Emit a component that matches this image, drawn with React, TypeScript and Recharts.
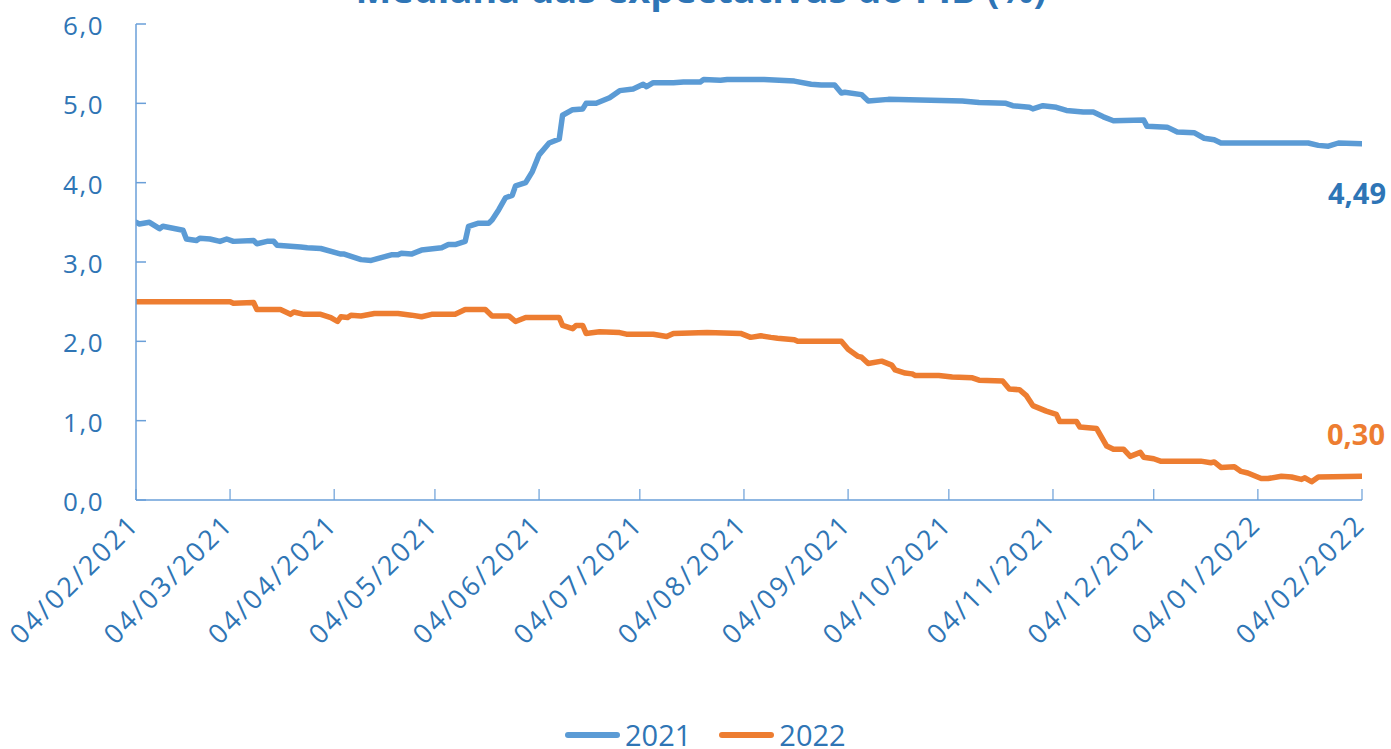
import React from 'react';
import { LineChart, Line, XAxis, YAxis, Legend, LabelList } from 'recharts';

const chartTitle = 'Mediana das expectativas do PIB (%)';
const seriesNames = ['2021', '2022'];
const seriesColors = ['#5B9BD5', '#ED7D31'];

const xTickLabels = [
  '04/02/2021', '04/03/2021', '04/04/2021', '04/05/2021', '04/06/2021', '04/07/2021',
  '04/08/2021', '04/09/2021', '04/10/2021', '04/11/2021', '04/12/2021', '04/01/2022', '04/02/2022',
];
const yTicks = [0, 1, 2, 3, 4, 5, 6];

const dates2021 = [
  '04/02/2021', '05/02/2021', '08/02/2021', '11/02/2021', '12/02/2021', '18/02/2021', '19/02/2021',
  '22/02/2021', '23/02/2021', '26/02/2021', '01/03/2021', '03/03/2021', '05/03/2021', '11/03/2021',
  '12/03/2021', '15/03/2021', '17/03/2021', '18/03/2021', '25/03/2021', '27/03/2021', '31/03/2021',
  '06/04/2021', '07/04/2021', '12/04/2021', '15/04/2021', '21/04/2021', '23/04/2021', '24/04/2021',
  '27/04/2021', '30/04/2021', '06/05/2021', '08/05/2021', '10/05/2021', '13/05/2021', '14/05/2021',
  '17/05/2021', '20/05/2021', '21/05/2021', '23/05/2021', '25/05/2021', '27/05/2021', '28/05/2021',
  '31/05/2021', '02/06/2021', '04/06/2021', '07/06/2021', '10/06/2021', '11/06/2021', '14/06/2021',
  '17/06/2021', '18/06/2021', '21/06/2021', '25/06/2021', '28/06/2021', '02/07/2021', '05/07/2021',
  '06/07/2021', '08/07/2021', '14/07/2021', '17/07/2021', '22/07/2021', '23/07/2021', '28/07/2021',
  '30/07/2021', '10/08/2021', '19/08/2021', '24/08/2021', '27/08/2021', '31/08/2021', '02/09/2021',
  '03/09/2021', '08/09/2021', '10/09/2021', '16/09/2021', '08/10/2021', '13/10/2021', '21/10/2021',
  '23/10/2021', '28/10/2021', '29/10/2021', '01/11/2021', '05/11/2021', '08/11/2021', '13/11/2021',
  '16/11/2021', '19/11/2021', '22/11/2021', '01/12/2021', '02/12/2021', '08/12/2021', '11/12/2021',
  '16/12/2021', '19/12/2021', '22/12/2021', '24/12/2021', '19/01/2022', '22/01/2022', '25/01/2022',
  '28/01/2022', '04/02/2022',
];
const values2021 = [
  3.50, 3.48, 3.50, 3.42, 3.45, 3.40, 3.29,
  3.27, 3.30, 3.29, 3.26, 3.29, 3.26, 3.27,
  3.23, 3.26, 3.26, 3.21, 3.19, 3.18, 3.17,
  3.10, 3.10, 3.03, 3.02, 3.09, 3.09, 3.11,
  3.10, 3.15, 3.18, 3.22, 3.22, 3.26, 3.45,
  3.49, 3.49, 3.53, 3.66, 3.81, 3.84, 3.96,
  4.00, 4.14, 4.35, 4.50, 4.55, 4.85, 4.92,
  4.93, 5.00, 5.00, 5.07, 5.16, 5.18, 5.24,
  5.21, 5.26, 5.26, 5.27, 5.27, 5.30, 5.29,
  5.30, 5.30, 5.28, 5.24, 5.23, 5.23, 5.13,
  5.14, 5.11, 5.03, 5.05, 5.03, 5.01, 5.00,
  4.97, 4.95, 4.93, 4.97, 4.95, 4.91, 4.89,
  4.89, 4.83, 4.78, 4.79, 4.71, 4.70, 4.64,
  4.63, 4.56, 4.54, 4.50, 4.50, 4.47, 4.46,
  4.50, 4.49,
];

const dates2022 = [
  '04/02/2021', '04/03/2021', '05/03/2021', '11/03/2021', '12/03/2021', '19/03/2021', '22/03/2021',
  '23/03/2021', '26/03/2021', '31/03/2021', '03/04/2021', '05/04/2021', '06/04/2021', '08/04/2021',
  '09/04/2021', '12/04/2021', '16/04/2021', '23/04/2021', '27/04/2021', '30/04/2021', '03/05/2021',
  '10/05/2021', '13/05/2021', '19/05/2021', '21/05/2021', '26/05/2021', '28/05/2021', '31/05/2021',
  '10/06/2021', '11/06/2021', '14/06/2021', '15/06/2021', '17/06/2021', '18/06/2021', '22/06/2021',
  '28/06/2021', '30/06/2021', '08/07/2021', '12/07/2021', '14/07/2021', '24/07/2021', '03/08/2021',
  '06/08/2021', '09/08/2021', '12/08/2021', '14/08/2021', '19/08/2021', '20/08/2021', '02/09/2021',
  '04/09/2021', '07/09/2021', '08/09/2021', '10/09/2021', '14/09/2021', '17/09/2021', '18/09/2021',
  '21/09/2021', '23/09/2021', '24/09/2021', '01/10/2021', '05/10/2021', '11/10/2021', '13/10/2021',
  '20/10/2021', '22/10/2021', '25/10/2021', '27/10/2021', '29/10/2021', '02/11/2021', '05/11/2021',
  '06/11/2021', '11/11/2021', '12/11/2021', '17/11/2021', '20/11/2021', '22/11/2021', '25/11/2021',
  '27/11/2021', '30/11/2021', '01/12/2021', '04/12/2021', '06/12/2021', '18/12/2021', '21/12/2021',
  '22/12/2021', '24/12/2021', '28/12/2021', '30/12/2021', '01/01/2022', '05/01/2022', '07/01/2022',
  '11/01/2022', '14/01/2022', '17/01/2022', '18/01/2022', '20/01/2022', '22/01/2022', '04/02/2022',
];
const values2022 = [
  2.50, 2.50, 2.48, 2.49, 2.40, 2.40, 2.34,
  2.37, 2.34, 2.34, 2.30, 2.25, 2.31, 2.30,
  2.33, 2.32, 2.35, 2.35, 2.33, 2.31, 2.34,
  2.34, 2.40, 2.40, 2.32, 2.32, 2.25, 2.30,
  2.30, 2.20, 2.16, 2.20, 2.20, 2.10, 2.12,
  2.11, 2.09, 2.09, 2.06, 2.10, 2.11, 2.10,
  2.05, 2.07, 2.05, 2.04, 2.02, 2.00, 2.00,
  1.90, 1.81, 1.80, 1.72, 1.75, 1.70, 1.64,
  1.60, 1.59, 1.57, 1.57, 1.55, 1.54, 1.51,
  1.50, 1.40, 1.39, 1.32, 1.19, 1.12, 1.08,
  0.99, 0.99, 0.92, 0.90, 0.68, 0.64, 0.64,
  0.55, 0.60, 0.54, 0.52, 0.49, 0.49, 0.47,
  0.48, 0.41, 0.42, 0.36, 0.34, 0.27, 0.27,
  0.30, 0.29, 0.26, 0.28, 0.23, 0.29, 0.30,
];

const toTime = (s: string) => {
  const [d, m, y] = s.split('/').map(Number);
  return Date.UTC(y, m - 1, d);
};

const data2021 = dates2021.map((d, i) => ({ t: toTime(d), v: values2021[i] }));
const data2022 = dates2022.map((d, i) => ({ t: toTime(d), v: values2022[i] }));
const xTicks = xTickLabels.map(toTime);

const AXIS_COLOR = '#6A9FD8';
const LABEL_COLOR = '#2F75B5';
const FONT = '"Open Sans", "DejaVu Sans", sans-serif';

const fmt1 = (v: number) => v.toFixed(1).replace('.', ',');
const fmt2 = (v: number) => v.toFixed(2).replace('.', ',');

const Y_MARGIN = 32;
const YTick = (props: any) => {
  const { x, y, payload } = props;
  return (
    <g>
      <line x1={x + Y_MARGIN} x2={x + Y_MARGIN + 10} y1={y} y2={y} stroke={AXIS_COLOR} strokeWidth={1.5} />
      <text x={x} y={y} dy={11} textAnchor="end" fill={LABEL_COLOR} fontSize={26} letterSpacing={1.5} fontFamily={FONT}>
        {fmt1(payload.value)}
      </text>
    </g>
  );
};

const X_MARGIN = 26;
const XTick = (props: any) => {
  const { x, y, payload } = props;
  const label = xTickLabels[xTicks.indexOf(payload.value)] ?? '';
  const ax = x + 5;
  const ay = y;
  return (
    <g>
      <line x1={x} x2={x} y1={y - X_MARGIN - 11} y2={y - X_MARGIN} stroke={AXIS_COLOR} strokeWidth={1.2} />
      <text
        x={ax}
        y={ay}
        textAnchor="end"
        transform={`rotate(-45, ${ax}, ${ay})`}
        fill={LABEL_COLOR}
        fontSize={27}
        letterSpacing={2.6}
        fontFamily={FONT}
      >
        {label}
      </text>
    </g>
  );
};

const makeEndLabel = (count: number, color: string, dx: number, dy: number) => (props: any) => {
  const { x, y, index, value } = props;
  if (index !== count - 1) return null;
  return (
    <text x={x + dx} y={y + dy} textAnchor="middle" fill={color} fontSize={29} fontWeight={700} fontFamily={FONT}>
      {fmt2(Number(value))}
    </text>
  );
};

const LegendContent = () => (
  <div style={{ height: 28, display: 'flex', alignItems: 'center', paddingLeft: 565, fontFamily: FONT, overflow: 'visible' }}>
    {seriesNames.map((name, i) => (
      <div key={name} style={{ display: 'flex', alignItems: 'center', marginRight: 28, height: 28 }}>
        <div style={{ width: 55, height: 6, borderRadius: 3, background: seriesColors[i], marginRight: 5 }} />
        <span style={{ fontSize: 29, color: LABEL_COLOR, lineHeight: '24px', display: 'inline-block' }}>{name}</span>
      </div>
    ))}
  </div>
);

export default function App() {
  return (
    <div style={{ position: 'absolute', left: 0, top: 0, width: 1391, height: 749, overflow: 'hidden', background: '#fff', fontFamily: FONT }}>
      <div
        style={{
          position: 'absolute',
          top: -31,
          left: 0,
          width: 1402,
          textAlign: 'center',
          fontSize: 38,
          lineHeight: '38px',
          fontWeight: 700,
          color: '#2E75B6',
          whiteSpace: 'nowrap',
        }}
      >
        {chartTitle}
      </div>
      <LineChart width={1391} height={749} margin={{ top: 24, right: 29, left: 0, bottom: 0 }}>
        <XAxis
          type="number"
          dataKey="t"
          domain={[xTicks[0], xTicks[xTicks.length - 1]]}
          ticks={xTicks}
          interval={0}
          height={221}
          tickSize={0}
          tickMargin={X_MARGIN}
          tickLine={false}
          axisLine={{ stroke: AXIS_COLOR, strokeWidth: 1.5 }}
          tick={<XTick />}
          allowDataOverflow
        />
        <YAxis
          type="number"
          domain={[0, 6]}
          ticks={yTicks}
          interval={0}
          width={136}
          tickSize={0}
          tickMargin={Y_MARGIN}
          tickLine={false}
          axisLine={{ stroke: AXIS_COLOR, strokeWidth: 1.5 }}
          tick={<YTick />}
          allowDataOverflow
        />
        <Legend verticalAlign="bottom" content={<LegendContent />} />
        <Line
          data={data2021}
          dataKey="v"
          name={seriesNames[0]}
          type="linear"
          stroke={seriesColors[0]}
          strokeWidth={5.5}
          strokeLinejoin="round"
          strokeLinecap="round"
          dot={false}
          activeDot={false}
          isAnimationActive={false}
        >
          <LabelList dataKey="v" content={makeEndLabel(data2021.length, '#2E75B6', -5, 60)} />
        </Line>
        <Line
          data={data2022}
          dataKey="v"
          name={seriesNames[1]}
          type="linear"
          stroke={seriesColors[1]}
          strokeWidth={5.5}
          strokeLinejoin="round"
          strokeLinecap="round"
          dot={false}
          activeDot={false}
          isAnimationActive={false}
        >
          <LabelList dataKey="v" content={makeEndLabel(data2022.length, seriesColors[1], -6, -31)} />
        </Line>
      </LineChart>
    </div>
  );
}
